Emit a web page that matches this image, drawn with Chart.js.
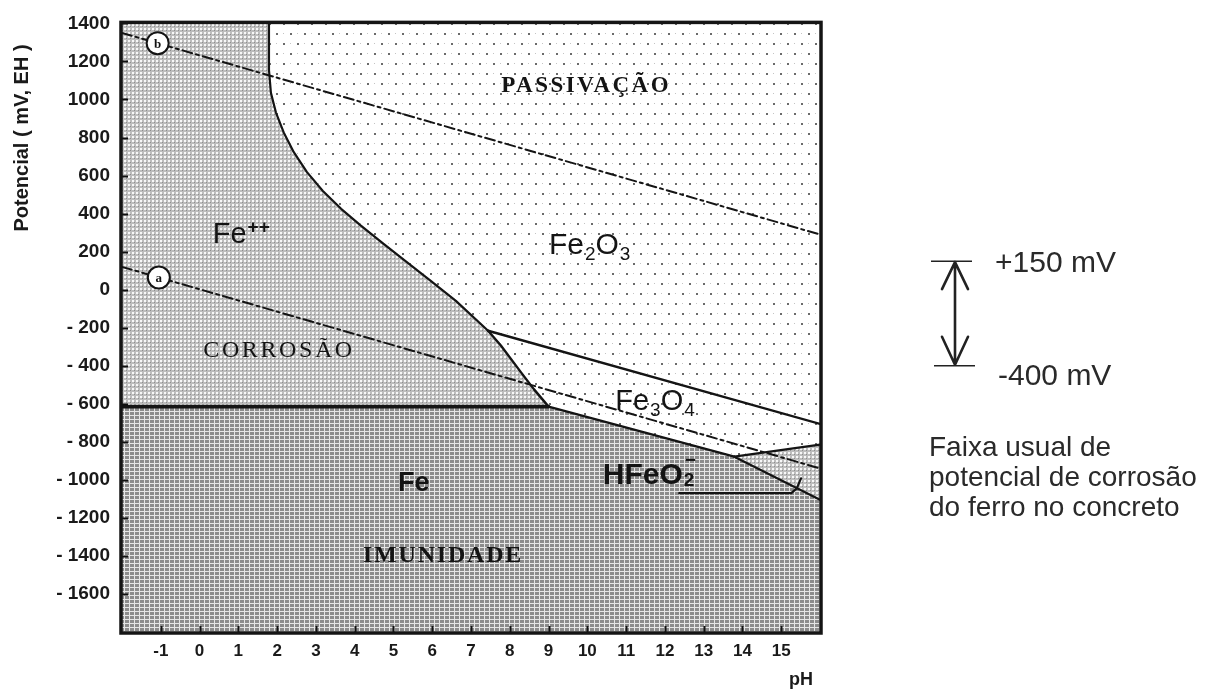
<!DOCTYPE html>
<html>
<head>
<meta charset="utf-8">
<script src="https://cdn.jsdelivr.net/npm/chart.js@4/dist/chart.umd.min.js"></script>
<style>
  html, body { margin: 0; padding: 0; background: #fff; }
  #wrap { width: 1206px; height: 689px; }
</style>
</head>
<body>
<div id="wrap"><canvas id="c" width="1206" height="689"></canvas></div>
<script>
// ---- Axis ticks (pH horizontally, potential in mV vs. EH vertically) ----
const phTicks = [-1, 0, 1, 2, 3, 4, 5, 6, 7, 8, 9, 10, 11, 12, 13, 14, 15];
const phTickLabels = ['-1', '0', '1', '2', '3', '4', '5', '6', '7', '8', '9', '10', '11', '12', '13', '14', '15'];
const mvTicks = [1400, 1200, 1000, 800, 600, 400, 200, 0, -200, -400, -600, -800, -1000, -1200, -1400, -1600];
const mvTickLabels = ['1400', '1200', '1000', '800', '600', '400', '200', '0', '- 200', '- 400', '- 600',
                      '- 800', '- 1000', '- 1200', '- 1400', '- 1600'];
const phRange = [-2, 16];
const mvRange = [-1800, 1400];

// ---- Stability boundaries, [pH, mV] ----
const feIonOxideBoundary = [[1.79, 1400], [1.79, 1155], [1.84, 1035], [1.97, 931], [2.17, 827], [2.43, 723],
                            [2.77, 618], [3.18, 519], [3.65, 425], [4.16, 337], [4.73, 243], [5.32, 149],
                            [5.97, 45], [6.61, -59], [7.44, -216]];
const feIonMagnetiteBoundary = [[7.44, -216], [7.77, -294], [8.29, -435], [8.62, -523], [9.0, -615]];
const feIonMetalBoundary = [[-2, -615], [9.0, -615]];
const oxideMagnetiteBoundary = [[7.44, -216], [16, -706]];
const metalMagnetiteBoundary = [[9.0, -615], [13.79, -878]];
const metalHFeO2Boundary = [[13.79, -878], [16, -1105]];
const magnetiteHFeO2Boundary = [[13.79, -878], [16, -815]];

// ---- Water stability lines (a: hydrogen, b: oxygen) ----
const waterLineA = [[-2, 120], [16, -940]];
const waterLineB = [[-2, 1350], [16, 290]];
const waterLineMarks = [[-1.05, 64, 'a'], [-1.08, 1296, 'b']];

// ---- Leader line of the HFeO2- label ----
const hfeo2Leader = [[12.37, -1070], [15.26, -1070], [15.40, -1045], [15.51, -992]];

// ---- Usual corrosion potential range of iron in concrete (mV) ----
const concreteRange = [150, -400];
const concreteRangeLabels = ['+150 mV', '-400 mV'];
const concreteCaption = ['Faixa usual de', 'potencial de corrosão', 'do ferro no concreto'];

// ---- Region polygons assembled from the boundaries ----
const pts = arr => arr.map(([x, y]) => ({ x, y }));
const corrosionRegion = [[-2, 1400], ...feIonOxideBoundary, ...feIonMagnetiteBoundary.slice(1), [-2, -615], [-2, 1400]];
const immunityRegion = [...feIonMetalBoundary, ...metalMagnetiteBoundary.slice(1), ...metalHFeO2Boundary.slice(1),
                        [16, -1800], [-2, -1800], [-2, -615]];
const passivationRegion = [[1.79, 1400], [16, 1400], ...magnetiteHFeO2Boundary.slice().reverse(),
                           ...metalMagnetiteBoundary.slice().reverse().slice(1),
                           ...feIonMagnetiteBoundary.slice().reverse().slice(1),
                           ...feIonOxideBoundary.slice().reverse().slice(1)];
const hfeo2Region = [magnetiteHFeO2Boundary[0], magnetiteHFeO2Boundary[1], metalHFeO2Boundary[1], magnetiteHFeO2Boundary[0]];

// ---- Hatch patterns ----
function makePattern(w, h, paint) {
  const c = document.createElement('canvas');
  c.width = w; c.height = h;
  const g = c.getContext('2d');
  paint(g);
  return g.createPattern(c, 'repeat');
}
const passivationFill = makePattern(14, 20, g => {
  g.fillStyle = '#ffffff'; g.fillRect(0, 0, 14, 20);
  g.fillStyle = '#6a6a6a'; g.fillRect(3, 3, 2, 2); g.fillRect(10, 13, 2, 2);
  g.fillStyle = '#c4c4c4'; g.fillRect(10, 3, 1, 1); g.fillRect(3, 13, 1, 1);
});
const corrosionFill = makePattern(4, 4, g => {
  g.fillStyle = '#bdbdbd'; g.fillRect(0, 0, 4, 4);
  g.fillStyle = '#f8f8f8'; g.fillRect(0, 0, 2, 2);
  g.fillStyle = '#8e8e8e'; g.fillRect(2, 2, 1, 1);
});
const immunityFill = makePattern(5, 4, g => {
  g.fillStyle = '#8c8c8c'; g.fillRect(0, 0, 5, 4);
  g.fillStyle = '#e6e6e6'; g.fillRect(4, 0, 1, 4); g.fillRect(0, 3, 5, 1);
});

// ---- Text annotations inside the diagram: [pH, mV, parts, size, weight, family, align, spacing] ----
const SANS = '"Liberation Sans", Arial, Helvetica, sans-serif';
const SERIF = '"Liberation Serif", "Times New Roman", serif';
const regionLabels = [
  [9.97, 1040, [['PASSIVAÇÃO', '']], 23, 'bold', SERIF, 'center', 2.5],
  [9.01, 186, [['Fe', ''], ['2', 'sub'], ['O', ''], ['3', 'sub']], 30, 'normal', SANS, 'left', 0],
  [0.34, 243, [['Fe', ''], ['++', 'sup']], 29, 'normal', SANS, 'left', 0],
  [2.05, -356, [['CORROSÃO', '']], 24, 'normal', SERIF, 'center', 2.6],
  [10.72, -633, [['Fe', ''], ['3', 'sub'], ['O', ''], ['4', 'sub']], 29, 'normal', SANS, 'left', 0],
  [10.40, -1020, [['HFeO', ''], [['2', '\u2212'], 'subsup']], 30, 'bold', SANS, 'left', 0],
  [5.12, -1060, [['Fe', '']], 27, 'bold', SANS, 'left', 0],
  [6.28, -1430, [['IMUNIDADE', '']], 24, 'bold', SERIF, 'center', 1.8]
];

function drawRich(ctx, x, y, parts, size, weight, family, align, spacing) {
  ctx.save();
  ctx.fillStyle = '#141414';
  ctx.textAlign = 'left';
  ctx.textBaseline = 'alphabetic';
  if ('letterSpacing' in ctx) ctx.letterSpacing = spacing + 'px';
  const small = Math.round(size * 0.64);
  const fontOf = (s, w) => `${w || weight} ${s}px ${family}`;
  const widthOf = ([t, kind]) => {
    if (!kind) { ctx.font = fontOf(size); return ctx.measureText(t).width; }
    ctx.font = fontOf(small, kind === 'sup' ? 'bold' : weight);
    if (kind === 'subsup') return Math.max(ctx.measureText(t[0]).width, ctx.measureText(t[1]).width);
    return ctx.measureText(t).width;
  };
  const total = parts.reduce((s, p) => s + widthOf(p), 0);
  let cx = align === 'center' ? x - total / 2 : x;
  for (const p of parts) {
    const [t, kind] = p;
    const w = widthOf(p);
    if (!kind) { ctx.font = fontOf(size); ctx.fillText(t, cx, y); }
    else if (kind === 'sub') { ctx.font = fontOf(small); ctx.fillText(t, cx + 1, y + size * 0.2); }
    else if (kind === 'sup') { ctx.font = fontOf(small, 'bold'); ctx.fillText(t, cx + 1, y - size * 0.36); }
    else { ctx.font = fontOf(small); ctx.fillText(t[0], cx + 1, y + size * 0.08); ctx.fillText(t[1], cx + 2, y - size * 0.58); }
    cx += w + (kind ? 1 : 0);
  }
  ctx.restore();
}

const decorations = {
  id: 'decorations',
  afterDatasetsDraw(chart) {
    const { ctx, chartArea: a, scales: { x, y } } = chart;
    ctx.save();
    // region names
    for (const [px, mv, parts, size, weight, family, align, spacing] of regionLabels) {
      drawRich(ctx, x.getPixelForValue(px), y.getPixelForValue(mv), parts, size, weight, family, align, spacing);
    }
    // letters inside the water-line markers
    ctx.fillStyle = '#111';
    ctx.font = `bold 13px ${SERIF}`;
    ctx.textAlign = 'center';
    ctx.textBaseline = 'middle';
    for (const [px, mv, letter] of waterLineMarks) {
      ctx.fillText(letter, x.getPixelForValue(px), y.getPixelForValue(mv) + 1);
    }
    // inner tick marks
    ctx.strokeStyle = '#111';
    ctx.lineWidth = 2;
    ctx.beginPath();
    for (const v of mvTicks) {
      const py = Math.round(y.getPixelForValue(v)) + 0.5;
      ctx.moveTo(a.left, py); ctx.lineTo(a.left + 6, py);
    }
    for (const v of phTicks) {
      const px = Math.round(x.getPixelForValue(v)) + 0.5;
      ctx.moveTo(px, a.bottom); ctx.lineTo(px, a.bottom - 6);
    }
    ctx.stroke();
    // frame
    ctx.lineWidth = 3.5;
    ctx.strokeStyle = '#151515';
    ctx.strokeRect(a.left - 1, a.top - 1, a.right - a.left + 2, a.bottom - a.top + 2);
    // axis titles
    ctx.fillStyle = '#1a1a1a';
    ctx.font = `bold 18px ${SANS}`;
    ctx.textAlign = 'center';
    ctx.textBaseline = 'middle';
    ctx.fillText('pH', 801, 680);
    ctx.save();
    ctx.translate(22, 138);
    ctx.rotate(-Math.PI / 2);
    ctx.font = `bold 20px ${SANS}`;
    ctx.fillText('Potencial ( mV, EH )', 0, 0);
    ctx.restore();

    // usual corrosion potential range of iron in concrete
    const yTop = y.getPixelForValue(concreteRange[0]);
    const yBot = y.getPixelForValue(concreteRange[1]);
    const ax = 955;
    ctx.strokeStyle = '#222';
    ctx.lineWidth = 1.5;
    ctx.beginPath();
    ctx.moveTo(931, yTop); ctx.lineTo(972, yTop);
    ctx.moveTo(934, yBot); ctx.lineTo(975, yBot);
    ctx.stroke();
    ctx.lineWidth = 2.6;
    ctx.lineCap = 'round';
    ctx.lineJoin = 'round';
    ctx.beginPath();
    ctx.moveTo(ax, yTop + 1); ctx.lineTo(ax, yBot - 1);
    ctx.moveTo(ax - 13, yTop + 28); ctx.lineTo(ax, yTop + 1); ctx.lineTo(ax + 13, yTop + 28);
    ctx.moveTo(ax - 13, yBot - 29); ctx.lineTo(ax, yBot - 1); ctx.lineTo(ax + 13, yBot - 29);
    ctx.stroke();
    ctx.fillStyle = '#2a2a2a';
    ctx.font = `30px ${SANS}`;
    ctx.textAlign = 'left';
    ctx.textBaseline = 'middle';
    ctx.fillText(concreteRangeLabels[0], 995, yTop + 3);
    ctx.fillText(concreteRangeLabels[1], 998, yBot + 11);
    ctx.font = `28px ${SANS}`;
    concreteCaption.forEach((line, i) => ctx.fillText(line, 929, 448 + i * 30));
    ctx.restore();
  }
};

const region = (data, fill) => ({
  data: pts(data), backgroundColor: fill, borderWidth: 0, pointRadius: 0, fill: 'shape', order: 10, tension: 0
});
const boundary = (data, width, dash) => ({
  data: pts(data), borderColor: '#141414', borderWidth: width, borderDash: dash || [],
  pointRadius: 0, fill: false, order: 2, tension: 0, borderCapStyle: 'round', borderJoinStyle: 'round'
});

new Chart(document.getElementById('c'), {
  type: 'line',
  data: {
    datasets: [
      {
        data: pts(waterLineMarks.map(([px, mv]) => [px, mv])), showLine: false, order: 0,
        pointRadius: 11, pointBackgroundColor: '#ffffff', pointBorderColor: '#141414', pointBorderWidth: 2
      },
      boundary(waterLineA, 2, [10, 4, 3, 4]),
      boundary(waterLineB, 2, [10, 4, 3, 4]),
      boundary(hfeo2Leader, 2.2),
      boundary(feIonOxideBoundary, 2.2),
      boundary(feIonMagnetiteBoundary, 2.4),
      boundary(feIonMetalBoundary, 3.6),
      boundary(oxideMagnetiteBoundary, 2.4),
      boundary(metalMagnetiteBoundary, 2.4),
      boundary(metalHFeO2Boundary, 2.2),
      boundary(magnetiteHFeO2Boundary, 2.2),
      region(passivationRegion, passivationFill),
      region(corrosionRegion, corrosionFill),
      region(hfeo2Region, corrosionFill),
      region(immunityRegion, immunityFill)
    ]
  },
  options: {
    responsive: false,
    animation: false,
    devicePixelRatio: 1,
    layout: { padding: { left: 0, top: 18, right: 386, bottom: 0 } },
    plugins: { legend: { display: false }, tooltip: { enabled: false } },
    scales: {
      x: {
        type: 'linear', min: phRange[0], max: phRange[1],
        afterBuildTicks: s => { s.ticks = phTicks.map(v => ({ value: v })); },
        afterFit: s => { s.height = 57; },
        grid: { display: false, drawTicks: false },
        border: { display: false },
        ticks: {
          autoSkip: false, maxRotation: 0, padding: 9, color: '#1a1a1a',
          font: { family: SANS, size: 17, weight: 'bold' },
          callback: v => { const i = phTicks.indexOf(v); return i >= 0 ? phTickLabels[i] : ''; }
        }
      },
      y: {
        type: 'linear', min: mvRange[0], max: mvRange[1],
        afterBuildTicks: s => { s.ticks = mvTicks.map(v => ({ value: v })); },
        afterFit: s => { s.width = 122; },
        grid: { display: false, drawTicks: false },
        border: { display: false },
        ticks: {
          autoSkip: false, padding: 12, color: '#1a1a1a',
          font: { family: SANS, size: 19, weight: 'bold' },
          callback: v => { const i = mvTicks.indexOf(v); return i >= 0 ? mvTickLabels[i] : ''; }
        }
      }
    }
  },
  plugins: [decorations]
});
</script>
</body>
</html>
